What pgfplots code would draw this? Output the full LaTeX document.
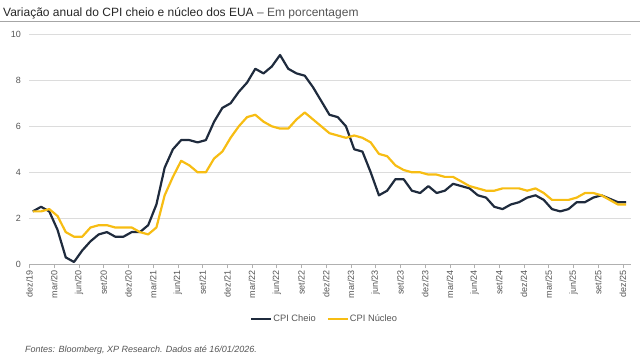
\documentclass[border=0pt]{standalone}
\usepackage{pgfplots}
\pgfplotsset{compat=1.18}
\usepackage{pgfplotstable}
\usepackage{fontspec}
\setmainfont{Liberation Sans}
\definecolor{cpidark}{HTML}{1F2B3D}
\definecolor{cpiyel}{HTML}{F7BD13}
\definecolor{gridc}{HTML}{DCDCDC}
\definecolor{labc}{HTML}{555555}

\pgfplotstableread{
x cpi core
0.4 2.3 2.3
1.4 2.5 2.3
2.4 2.3 2.4
3.4 1.5 2.1
4.4 0.3 1.4
5.4 0.1 1.2
6.4 0.6 1.2
7.4 1.0 1.6
8.4 1.3 1.7
9.4 1.4 1.7
10.4 1.2 1.6
11.4 1.2 1.6
12.4 1.4 1.6
13.4 1.4 1.4
14.4 1.7 1.3
15.4 2.6 1.6
16.4 4.2 3.0
17.4 5.0 3.8
18.4 5.4 4.5
19.4 5.4 4.3
20.4 5.3 4.0
21.4 5.4 4.0
22.4 6.2 4.6
23.4 6.8 4.9
24.4 7.0 5.5
25.4 7.5 6.0
26.4 7.9 6.4
27.4 8.5 6.5
28.4 8.3 6.2
29.4 8.6 6.0
30.4 9.1 5.9
31.4 8.5 5.9
32.4 8.3 6.3
33.4 8.2 6.6
34.4 7.7 6.3
35.4 7.1 6.0
36.4 6.5 5.7
37.4 6.4 5.6
38.4 6.0 5.5
39.4 5.0 5.6
40.4 4.9 5.5
41.4 4.0 5.3
42.4 3.0 4.8
43.4 3.2 4.7
44.4 3.7 4.3
45.4 3.7 4.1
46.4 3.2 4.0
47.4 3.1 4.0
48.4 3.4 3.9
49.4 3.1 3.9
50.4 3.2 3.8
51.4 3.5 3.8
52.4 3.4 3.6
53.4 3.3 3.4
54.4 3.0 3.3
55.4 2.9 3.2
56.4 2.5 3.2
57.4 2.4 3.3
58.4 2.6 3.3
59.4 2.7 3.3
60.4 2.9 3.2
61.4 3.0 3.3
62.4 2.8 3.1
63.4 2.4 2.8
64.4 2.3 2.8
65.4 2.4 2.8
66.4 2.7 2.9
67.4 2.7 3.1
68.4 2.9 3.1
69.4 3.0 3.0
71.4 2.7 2.6
72.4 2.7 2.6
}\cpidata

\begin{document}
\begin{tikzpicture}
\useasboundingbox (0,0) rectangle (640bp,360bp);
\node[anchor=base west, inner sep=0pt, font=\fontsize{12bp}{14bp}\selectfont] at (3bp,343.5bp)
  {\textcolor{black!85}{Variação anual do CPI cheio e núcleo dos EUA}\ \textcolor{labc}{-- Em porcentagem}};
\draw[gray!70, line width=0.8bp] (0,338.5bp) -- (640bp,338.5bp);
\begin{axis}[
  at={(29.5bp,95.7bp)}, anchor=south west,
  scale only axis, width=601.2bp, height=230bp,
  xmin=0, xmax=72.95, ymin=0, ymax=10,
  ytick={0,2,4,6,8,10},
  xtick={0,3,...,72},
  xticklabels={dez/19,mar/20,jun/20,set/20,dez/20,mar/21,jun/21,set/21,dez/21,mar/22,jun/22,set/22,dez/22,mar/23,jun/23,set/23,dez/23,mar/24,jun/24,set/24,dez/24,mar/25,jun/25,set/25,dez/25},
  axis line style={draw=none},
  ymajorgrids, grid style={gridc, line width=0.8bp},
  extra y ticks={0}, extra y tick style={grid style={gridc!80!black, line width=0.8bp}, yticklabel=\empty},
  ytick style={draw=none},
  xtick style={draw=gridc!80!black, line width=0.6bp},
  xtick pos=bottom, ytick pos=left,
  xtick align=outside, major tick length=4bp,
  /pgf/number format/assume math mode=true,
  yticklabel style={font=\fontsize{9bp}{10bp}\selectfont, text=labc, inner sep=0pt, xshift=-8.5bp},
  xticklabel style={font=\fontsize{9bp}{10bp}\selectfont, text=labc, rotate=90, anchor=east, inner sep=1.5bp},
  legend style={at={(0.49,-0.238)}, anchor=center, draw=none, fill=none,
    legend columns=2, font=\fontsize{9.3bp}{11bp}\selectfont, text=labc,
    /tikz/every even column/.append style={column sep=10bp},
    inner sep=0pt, nodes={inner sep=1bp}},
  legend image code/.code={\draw[#1, line width=2.2bp] (0bp,0bp) -- (20bp,0bp);},
]
\addplot[cpidark, line width=2.2bp, line join=round] table[x=x, y=cpi] {\cpidata};
\addlegendentry{CPI Cheio}
\addplot[cpiyel, line width=2.2bp, line join=round] table[x=x, y=core] {\cpidata};
\addlegendentry{CPI Núcleo}
\end{axis}
\node[anchor=base west, inner sep=0pt, font=\fontsize{9bp}{11bp}\itshape, text=labc] at (25bp,8bp)
  {Fontes: Bloomberg, XP Research. Dados até 16/01/2026.};
\end{tikzpicture}
\end{document}
